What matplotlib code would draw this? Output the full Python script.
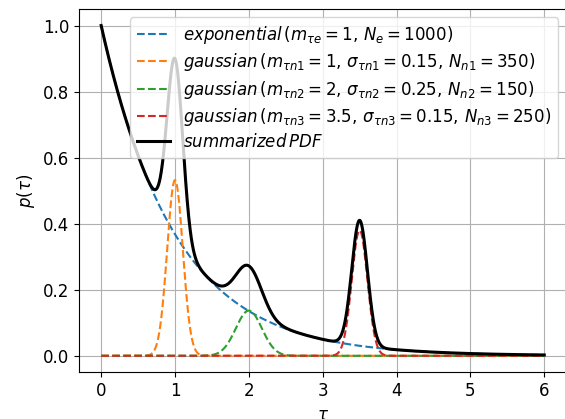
import numpy as np
import matplotlib
matplotlib.use('Agg')
import matplotlib.pyplot as plt

# parameters
exp_mean = 1
exp_count = 1000
gauss_means = [1, 2, 3.5]
gauss_sigmas = [0.15, 0.25, 0.15]
gauss_counts = [350, 150, 250]
gauss_colors = ['C1', 'C2', 'C3']

x_ticks = [0, 1, 2, 3, 4, 5, 6]
y_ticks = [0.0, 0.2, 0.4, 0.6, 0.8, 1.0]

plt.rcParams['font.size'] = 12

tau = np.linspace(0, 6, 1201)
total = exp_count + sum(gauss_counts)

fig = plt.figure(figsize=(5.65, 4.19), dpi=100)
ax = fig.add_axes([79 / 565, 46.7 / 419, 487.4 / 565, 363.3 / 419])

p_exp = np.exp(-tau / exp_mean)
ax.plot(tau, p_exp, '--', color='C0', lw=1.5,
        label=r'$\it{exponential}\,(m_{\tau e}=%g,\,N_e=%d)$' % (exp_mean, exp_count))

p_sum = p_exp.copy()
for i, (m, s, n, c) in enumerate(zip(gauss_means, gauss_sigmas, gauss_counts, gauss_colors)):
    g = n / total / (s * np.sqrt(2 * np.pi)) * np.exp(-(tau - m) ** 2 / s ** 2)
    p_sum += g
    k = i + 1
    ax.plot(tau, g, '--', color=c, lw=1.5,
            label=r'$\it{gaussian}\,(m_{\tau n%d}=%g,\,\sigma_{\tau n%d}=%g,\,N_{n%d}=%d)$' % (k, m, k, s, k, n))

ax.plot(tau, p_sum, '-', color='black', lw=2.2, label=r'$\it{summarized\,PDF}$')

ax.set_xlim(-0.3, 6.3)
ax.set_ylim(-0.05, 1.05)
ax.set_xticks(x_ticks)
ax.set_yticks(y_ticks)
ax.set_xlabel(r'$\tau$')
ax.set_ylabel(r'$p(\tau)$')
ax.grid(True)
ax.legend(loc='upper right', labelspacing=0.32)

fig.savefig('out.png', dpi=100)
